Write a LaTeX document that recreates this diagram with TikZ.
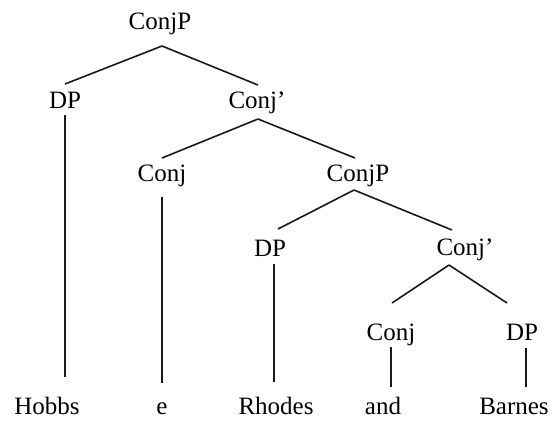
\documentclass[tikz,border=0pt]{standalone}
\usepackage{fontspec}
\setmainfont{Liberation Serif}
\begin{document}
\begin{tikzpicture}[x=1pt,y=-1pt,
  lab/.style={anchor=base, inner sep=0pt, font=\fontsize{25}{28}\selectfont},
  edge/.style={line width=1.6pt, draw=black!90}]
\useasboundingbox (0,0) rectangle (554,424);
% internal nodes
\node[lab] (cp1) at (160,29) {ConjP};
\node[lab] (dp1) at (65,108) {DP};
\node[lab] (cb1) at (257,108) {Conj’};
\node[lab] (cj1) at (162,181) {Conj};
\node[lab] (cp2) at (358,181) {ConjP};
\node[lab] (dp2) at (270,256) {DP};
\node[lab] (cb2) at (465,255) {Conj’};
\node[lab] (cj2) at (391,340) {Conj};
\node[lab] (dp3) at (522,340) {DP};
% leaves
\node[lab] (w1) at (47,414) {Hobbs};
\node[lab] (w2) at (162,414) {e};
\node[lab] (w3) at (276,414) {Rhodes};
\node[lab] (w4) at (383,414) {and};
\node[lab] (w5) at (514,414) {Barnes};
% branches
\draw[edge] ([shift={(2,17)}]cp1.base) -- ([shift={(0,-24)}]dp1.base);
\draw[edge] ([shift={(2,17)}]cp1.base) -- ([shift={(1,-23)}]cb1.base);
\draw[edge] ([shift={(1,11)}]cb1.base) -- ([shift={(0,-23)}]cj1.base);
\draw[edge] ([shift={(1,11)}]cb1.base) -- ([shift={(-3,-23)}]cp2.base);
\draw[edge] ([shift={(-4,9)}]cp2.base) -- ([shift={(8,-27)}]dp2.base);
\draw[edge] ([shift={(-4,9)}]cp2.base) -- ([shift={(-13,-25)}]cb2.base);
\draw[edge] ([shift={(-16,10)}]cb2.base) -- ([shift={(1,-37)}]cj2.base);
\draw[edge] ([shift={(-16,10)}]cb2.base) -- ([shift={(-15,-37)}]dp3.base);
% unary branches to leaves
\draw[edge] ([shift={(0,7)}]dp1.base) -- ([shift={(18,-37)}]w1.base);
\draw[edge] ([shift={(0,16)}]cj1.base) -- ([shift={(0,-31)}]w2.base);
\draw[edge] ([shift={(4,8)}]dp2.base) -- ([shift={(-2,-32)}]w3.base);
\draw[edge] ([shift={(0,7)}]cj2.base) -- ([shift={(8,-27)}]w4.base);
\draw[edge] ([shift={(4,8)}]dp3.base) -- ([shift={(12,-27)}]w5.base);
\end{tikzpicture}
\end{document}
